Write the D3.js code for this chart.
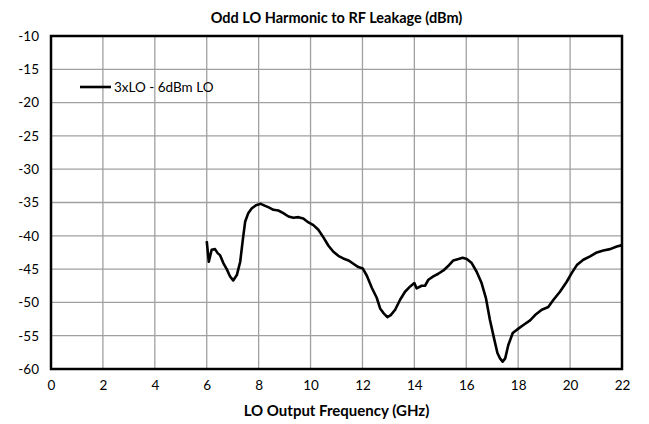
<!DOCTYPE html>
<html>
<head>
<meta charset="utf-8">
<script src="https://cdn.jsdelivr.net/npm/d3@7"></script>
<style>
  body { margin: 0; background: #fff; }
  text { font-family: Lato, "Open Sans", sans-serif; fill: #000; }
</style>
</head>
<body>
<div id="chart"></div>
<script>
// LO output frequency (GHz) and leakage (dBm)
var freq = [6.0, 6.08, 6.19, 6.32, 6.42, 6.51, 6.64, 6.77, 6.9, 7.02, 7.16, 7.29, 7.39, 7.48, 7.6, 7.73,
  7.9, 8.08, 8.25, 8.37, 8.57, 8.76, 8.95, 9.15, 9.34, 9.53, 9.72, 9.92, 10.11, 10.3, 10.49, 10.69,
  10.88, 11.07, 11.26, 11.46, 11.65, 11.84, 12.01, 12.17, 12.36, 12.55, 12.68, 12.81, 12.96, 13.09,
  13.26, 13.45, 13.64, 13.84, 14.0, 14.09, 14.28, 14.41, 14.54, 14.73, 14.92, 15.12, 15.31, 15.5,
  15.7, 15.86, 16.02, 16.21, 16.4, 16.59, 16.76, 16.91, 17.07, 17.2, 17.3, 17.4, 17.5, 17.62, 17.79,
  18.02, 18.2, 18.46, 18.65, 18.91, 19.16, 19.36, 19.61, 19.87, 20.06, 20.26, 20.51, 20.77, 21.03,
  21.28, 21.54, 21.8, 22.0];
var leak = [-40.8, -43.9, -42.1, -42.0, -42.6, -42.9, -44.1, -45.0, -46.1, -46.7, -45.9, -43.9, -40.6, -37.9, -36.6, -35.9,
  -35.4, -35.2, -35.5, -35.7, -36.1, -36.2, -36.6, -37.1, -37.3, -37.2, -37.4, -38.0, -38.4, -39.1, -40.2, -41.5,
  -42.4, -43.0, -43.4, -43.7, -44.2, -44.7, -44.9, -46.0, -47.8, -49.3, -50.9, -51.6, -52.2, -51.9,
  -51.1, -49.6, -48.4, -47.6, -47.1, -47.9, -47.5, -47.5, -46.6, -46.1, -45.7, -45.2, -44.5, -43.7,
  -43.5, -43.3, -43.5, -44.1, -45.4, -47.1, -49.4, -52.6, -55.4, -57.6, -58.4, -58.9, -58.4, -56.4, -54.6,
  -53.9, -53.4, -52.7, -51.9, -51.1, -50.7, -49.6, -48.4, -46.9, -45.6, -44.4, -43.6, -43.1, -42.5,
  -42.2, -42.0, -41.6, -41.4];
var seriesName = "3xLO - 6dBm LO";
var xTicks = d3.range(0, 23, 2);
var yTicks = d3.range(-60, -9, 5);

var width = 649, height = 424;
var margin = { top: 36, right: 27, bottom: 55, left: 51 };

var svg = d3.select("#chart").append("svg")
  .attr("width", width)
  .attr("height", height);

var x = d3.scaleLinear().domain([0, 22]).range([margin.left, width - margin.right]);
var y = d3.scaleLinear().domain([-60, -10]).range([height - margin.bottom, margin.top]);

// grid
svg.append("g")
  .selectAll("line.vg")
  .data(xTicks)
  .enter()
  .append("line")
    .attr("x1", function(d) { return x(d); })
    .attr("x2", function(d) { return x(d); })
    .attr("y1", y(-10))
    .attr("y2", y(-60))
    .attr("stroke", "#a0a0a0")
    .attr("stroke-width", 1.3);

svg.append("g")
  .selectAll("line.hg")
  .data(yTicks)
  .enter()
  .append("line")
    .attr("x1", x(0))
    .attr("x2", x(22))
    .attr("y1", function(d) { return y(d); })
    .attr("y2", function(d) { return y(d); })
    .attr("stroke", "#a0a0a0")
    .attr("stroke-width", 1.3);

// axes (labels only), hyphen as minus like the original
var xAxis = svg.append("g")
  .attr("transform", "translate(0," + (y(-60) + 8) + ")")
  .call(d3.axisBottom(x).tickValues(xTicks).tickSize(0).tickPadding(3));
var yAxis = svg.append("g")
  .attr("transform", "translate(" + (x(0) - 12) + ",0)")
  .call(d3.axisLeft(y).tickValues(yTicks).tickSize(0).tickPadding(0)
    .tickFormat(function(d) { return String(d); }));
[xAxis, yAxis].forEach(function(g) {
  g.select(".domain").remove();
  g.selectAll("text").style("font-size", "13.5px").style("font-family", "Lato, 'Open Sans', sans-serif");
});

// frame
svg.append("rect")
  .attr("x", x(0))
  .attr("y", y(-10))
  .attr("width", x(22) - x(0))
  .attr("height", y(-60) - y(-10))
  .attr("fill", "none")
  .attr("stroke", "#000")
  .attr("stroke-width", 2.5);

// series
var pts = freq.map(function(f, i) { return [f, leak[i]]; });
svg.append("path")
  .datum(pts)
  .attr("fill", "none")
  .attr("stroke", "#000")
  .attr("stroke-width", 2.6)
  .attr("stroke-linejoin", "round")
  .attr("d", d3.line()
    .x(function(d) { return x(d[0]); })
    .y(function(d) { return y(d[1]); }));

// legend
svg.append("line")
  .attr("x1", 80).attr("x2", 111)
  .attr("y1", 87).attr("y2", 87)
  .attr("stroke", "#000")
  .attr("stroke-width", 2.6);
svg.append("text")
  .attr("x", 114).attr("y", 92)
  .style("font-size", "13.5px")
  .text(seriesName);

// titles
svg.append("text")
  .attr("x", (x(0) + x(22)) / 2).attr("y", 23)
  .attr("text-anchor", "middle")
  .style("font-size", "14.5px")
  .style("font-weight", "bold")
  .text("Odd LO Harmonic to RF Leakage (dBm)");
svg.append("text")
  .attr("x", (x(0) + x(22)) / 2).attr("y", 416)
  .attr("text-anchor", "middle")
  .style("font-size", "15px")
  .style("font-weight", "bold")
  .text("LO Output Frequency (GHz)");
</script>
</body>
</html>
